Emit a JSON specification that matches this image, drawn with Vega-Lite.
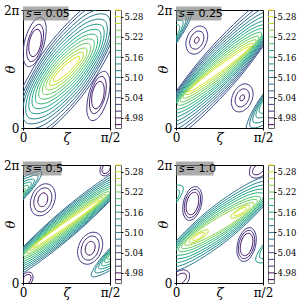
{
  "$schema": "https://vega.github.io/schema/vega-lite/v6.json",
  "padding": {"left": 2, "top": 3, "right": 0, "bottom": 0},
  "config": {
    "font": "DejaVu Serif",
    "view": {"stroke": "black", "strokeWidth": 1},
    "axis": {"grid": false, "domain": false, "tickColor": "black", "labelColor": "black", "labelFont": "DejaVu Serif", "titleFont": "DejaVu Serif", "tickSize": 2, "labelFontSize": 12, "titleFontSize": 13, "titleFontWeight": "normal", "titleColor": "black"}
  },
  "datasets": {
    "c1": [
      {"c":"k0","o":0,"z":58.6,"t":217,"l":5.28},{"c":"k0","o":1,"z":53.1,"t":213,"l":5.28},{"c":"k0","o":2,"z":42.9,"t":190,"l":5.28},{"c":"k0","o":3,"z":33.9,"t":161,"l":5.28},{"c":"k0","o":4,"z":31.4,"t":143,"l":5.28},{"c":"k0","o":5,"z":36.9,"t":147,"l":5.28},{"c":"k0","o":6,"z":47.1,"t":170,"l":5.28},{"c":"k0","o":7,"z":56.1,"t":199,"l":5.28},
      {"c":"k1","o":0,"z":62.3,"t":229,"l":5.26},{"c":"k1","o":1,"z":54.9,"t":226,"l":5.26},{"c":"k1","o":2,"z":41.6,"t":196,"l":5.26},{"c":"k1","o":3,"z":30.3,"t":157,"l":5.26},{"c":"k1","o":4,"z":27.7,"t":131,"l":5.26},{"c":"k1","o":5,"z":35.1,"t":135,"l":5.26},{"c":"k1","o":6,"z":48.4,"t":164,"l":5.26},{"c":"k1","o":7,"z":59.7,"t":204,"l":5.26},
      {"c":"k2","o":0,"z":66.0,"t":241,"l":5.24},{"c":"k2","o":1,"z":56.5,"t":238,"l":5.24},{"c":"k2","o":2,"z":40.3,"t":201,"l":5.24},{"c":"k2","o":3,"z":26.8,"t":152,"l":5.24},{"c":"k2","o":4,"z":24.0,"t":119,"l":5.24},{"c":"k2","o":5,"z":33.5,"t":122,"l":5.24},{"c":"k2","o":6,"z":49.7,"t":159,"l":5.24},{"c":"k2","o":7,"z":63.2,"t":208,"l":5.24},
      {"c":"k3","o":0,"z":69.5,"t":254,"l":5.22},{"c":"k3","o":1,"z":58.0,"t":251,"l":5.22},{"c":"k3","o":2,"z":38.9,"t":206,"l":5.22},{"c":"k3","o":3,"z":23.4,"t":146,"l":5.22},{"c":"k3","o":4,"z":20.5,"t":106,"l":5.22},{"c":"k3","o":5,"z":32.0,"t":109,"l":5.22},{"c":"k3","o":6,"z":51.1,"t":154,"l":5.22},{"c":"k3","o":7,"z":66.7,"t":214,"l":5.22},
      {"c":"k4","o":0,"z":72.9,"t":267,"l":5.20},{"c":"k4","o":1,"z":59.4,"t":264,"l":5.20},{"c":"k4","o":2,"z":37.5,"t":211,"l":5.20},{"c":"k4","o":3,"z":19.9,"t":140,"l":5.20},{"c":"k4","o":4,"z":17.1,"t":93,"l":5.20},{"c":"k4","o":5,"z":30.6,"t":96,"l":5.20},{"c":"k4","o":6,"z":52.5,"t":149,"l":5.20},{"c":"k4","o":7,"z":70.1,"t":220,"l":5.20},
      {"c":"k5","o":0,"z":76.2,"t":281,"l":5.18},{"c":"k5","o":1,"z":60.7,"t":277,"l":5.18},{"c":"k5","o":2,"z":36.0,"t":216,"l":5.18},{"c":"k5","o":3,"z":16.6,"t":134,"l":5.18},{"c":"k5","o":4,"z":13.8,"t":79,"l":5.18},{"c":"k5","o":5,"z":29.3,"t":83,"l":5.18},{"c":"k5","o":6,"z":54.0,"t":144,"l":5.18},{"c":"k5","o":7,"z":73.5,"t":226,"l":5.18},
      {"c":"k6","o":0,"z":79.4,"t":295,"l":5.16},{"c":"k6","o":1,"z":61.8,"t":290,"l":5.16},{"c":"k6","o":2,"z":34.4,"t":221,"l":5.16},{"c":"k6","o":3,"z":13.2,"t":127,"l":5.16},{"c":"k6","o":4,"z":10.6,"t":65,"l":5.16},{"c":"k6","o":5,"z":28.2,"t":70,"l":5.16},{"c":"k6","o":6,"z":55.6,"t":139,"l":5.16},{"c":"k6","o":7,"z":76.8,"t":233,"l":5.16},
      {"c":"k7","o":0,"z":82.4,"t":310,"l":5.14},{"c":"k7","o":1,"z":62.8,"t":304,"l":5.14},{"c":"k7","o":2,"z":32.8,"t":225,"l":5.14},{"c":"k7","o":3,"z":10.0,"t":120,"l":5.14},{"c":"k7","o":4,"z":7.6,"t":50,"l":5.14},{"c":"k7","o":5,"z":27.2,"t":56,"l":5.14},{"c":"k7","o":6,"z":57.2,"t":135,"l":5.14},{"c":"k7","o":7,"z":80.0,"t":240,"l":5.14},
      {"c":"k8","o":0,"z":85.3,"t":325,"l":5.12},{"c":"k8","o":1,"z":63.7,"t":318,"l":5.12},{"c":"k8","o":2,"z":31.2,"t":230,"l":5.12},{"c":"k8","o":3,"z":6.8,"t":113,"l":5.12},{"c":"k8","o":4,"z":4.7,"t":35,"l":5.12},{"c":"k8","o":5,"z":26.3,"t":42,"l":5.12},{"c":"k8","o":6,"z":58.8,"t":130,"l":5.12},{"c":"k8","o":7,"z":83.2,"t":248,"l":5.12},
      {"c":"k9","o":0,"z":88.1,"t":341,"l":5.10},{"c":"k9","o":1,"z":64.5,"t":332,"l":5.10},{"c":"k9","o":2,"z":29.5,"t":234,"l":5.10},{"c":"k9","o":3,"z":3.6,"t":105,"l":5.10},{"c":"k9","o":4,"z":1.9,"t":20,"l":5.10},{"c":"k9","o":5,"z":25.5,"t":29,"l":5.10},{"c":"k9","o":6,"z":60.5,"t":126,"l":5.10},{"c":"k9","o":7,"z":86.4,"t":256,"l":5.10},
      {"c":"k10","o":0,"z":90.7,"t":356,"l":5.08},{"c":"k10","o":1,"z":65.2,"t":346,"l":5.08},{"c":"k10","o":2,"z":27.8,"t":238,"l":5.08},{"c":"k10","o":3,"z":0.6,"t":96,"l":5.08},{"c":"k10","o":4,"z":-0.7,"t":4,"l":5.08},{"c":"k10","o":5,"z":24.8,"t":15,"l":5.08},{"c":"k10","o":6,"z":62.2,"t":122,"l":5.08},{"c":"k10","o":7,"z":89.5,"t":264,"l":5.08},
      {"c":"k11","o":0,"z":93.8,"t":375,"l":5.06},{"c":"k11","o":1,"z":66.1,"t":362,"l":5.06},{"c":"k11","o":2,"z":26.1,"t":241,"l":5.06},{"c":"k11","o":3,"z":-2.9,"t":85,"l":5.06},{"c":"k11","o":4,"z":-3.8,"t":-15,"l":5.06},{"c":"k11","o":5,"z":23.9,"t":-2,"l":5.06},{"c":"k11","o":6,"z":64.0,"t":119,"l":5.06},{"c":"k11","o":7,"z":92.9,"t":275,"l":5.06},
      {"c":"k12","o":0,"z":98.5,"t":394,"l":5.04},{"c":"k12","o":1,"z":68.4,"t":378,"l":5.04},{"c":"k12","o":2,"z":24.6,"t":246,"l":5.04},{"c":"k12","o":3,"z":-7.3,"t":76,"l":5.04},{"c":"k12","o":4,"z":-8.5,"t":-34,"l":5.04},{"c":"k12","o":5,"z":21.6,"t":-18,"l":5.04},{"c":"k12","o":6,"z":65.4,"t":114,"l":5.04},{"c":"k12","o":7,"z":97.3,"t":285,"l":5.04},
      {"c":"m13a","o":0,"z":19.5,"t":337,"l":5.02},{"c":"m13a","o":1,"z":10.7,"t":324,"l":5.02},{"c":"m13a","o":2,"z":2.6,"t":275,"l":5.02},{"c":"m13a","o":3,"z":0.0,"t":219,"l":5.02},{"c":"m13a","o":4,"z":4.5,"t":188,"l":5.02},{"c":"m13a","o":5,"z":13.3,"t":201,"l":5.02},{"c":"m13a","o":6,"z":21.4,"t":250,"l":5.02},{"c":"m13a","o":7,"z":24.0,"t":307,"l":5.02},
      {"c":"m13b","o":0,"z":70.5,"t":23,"l":5.02},{"c":"m13b","o":1,"z":79.3,"t":36,"l":5.02},{"c":"m13b","o":2,"z":87.4,"t":85,"l":5.02},{"c":"m13b","o":3,"z":90.0,"t":141,"l":5.02},{"c":"m13b","o":4,"z":85.5,"t":172,"l":5.02},{"c":"m13b","o":5,"z":76.7,"t":159,"l":5.02},{"c":"m13b","o":6,"z":68.6,"t":110,"l":5.02},{"c":"m13b","o":7,"z":66.0,"t":53,"l":5.02},
      {"c":"m14a","o":0,"z":17.6,"t":316,"l":5.00},{"c":"m14a","o":1,"z":11.1,"t":305,"l":5.00},{"c":"m14a","o":2,"z":5.4,"t":268,"l":5.00},{"c":"m14a","o":3,"z":3.9,"t":225,"l":5.00},{"c":"m14a","o":4,"z":7.4,"t":203,"l":5.00},{"c":"m14a","o":5,"z":13.9,"t":213,"l":5.00},{"c":"m14a","o":6,"z":19.6,"t":251,"l":5.00},{"c":"m14a","o":7,"z":21.2,"t":293,"l":5.00},
      {"c":"m14b","o":0,"z":72.4,"t":44,"l":5.00},{"c":"m14b","o":1,"z":78.9,"t":55,"l":5.00},{"c":"m14b","o":2,"z":84.6,"t":92,"l":5.00},{"c":"m14b","o":3,"z":86.1,"t":135,"l":5.00},{"c":"m14b","o":4,"z":82.6,"t":157,"l":5.00},{"c":"m14b","o":5,"z":76.1,"t":147,"l":5.00},{"c":"m14b","o":6,"z":70.4,"t":109,"l":5.00},{"c":"m14b","o":7,"z":68.8,"t":67,"l":5.00},
      {"c":"m15a","o":0,"z":15.6,"t":301,"l":4.98},{"c":"m15a","o":1,"z":10.6,"t":293,"l":4.98},{"c":"m15a","o":2,"z":6.7,"t":265,"l":4.98},{"c":"m15a","o":3,"z":6.2,"t":234,"l":4.98},{"c":"m15a","o":4,"z":9.4,"t":218,"l":4.98},{"c":"m15a","o":5,"z":14.4,"t":226,"l":4.98},{"c":"m15a","o":6,"z":18.3,"t":254,"l":4.98},{"c":"m15a","o":7,"z":18.8,"t":285,"l":4.98},
      {"c":"m15b","o":0,"z":74.4,"t":59,"l":4.98},{"c":"m15b","o":1,"z":79.4,"t":67,"l":4.98},{"c":"m15b","o":2,"z":83.3,"t":95,"l":4.98},{"c":"m15b","o":3,"z":83.8,"t":126,"l":4.98},{"c":"m15b","o":4,"z":80.6,"t":142,"l":4.98},{"c":"m15b","o":5,"z":75.6,"t":134,"l":4.98},{"c":"m15b","o":6,"z":71.7,"t":106,"l":4.98},{"c":"m15b","o":7,"z":71.2,"t":75,"l":4.98}
    ],
    "c2": [
      {"c":"k0","o":0,"z":76.7,"t":249,"l":5.28},{"c":"k0","o":1,"z":66.5,"t":234,"l":5.28},{"c":"k0","o":2,"z":43.7,"t":188,"l":5.28},{"c":"k0","o":3,"z":21.7,"t":137,"l":5.28},{"c":"k0","o":4,"z":13.3,"t":111,"l":5.28},{"c":"k0","o":5,"z":23.5,"t":126,"l":5.28},{"c":"k0","o":6,"z":46.3,"t":172,"l":5.28},{"c":"k0","o":7,"z":68.3,"t":223,"l":5.28},
      {"c":"k1","o":0,"z":79.8,"t":258,"l":5.26},{"c":"k1","o":1,"z":68.1,"t":244,"l":5.26},{"c":"k1","o":2,"z":42.9,"t":192,"l":5.26},{"c":"k1","o":3,"z":19.0,"t":133,"l":5.26},{"c":"k1","o":4,"z":10.2,"t":102,"l":5.26},{"c":"k1","o":5,"z":21.9,"t":116,"l":5.26},{"c":"k1","o":6,"z":47.1,"t":168,"l":5.26},{"c":"k1","o":7,"z":71.1,"t":227,"l":5.26},
      {"c":"k2","o":0,"z":82.8,"t":268,"l":5.24},{"c":"k2","o":1,"z":69.7,"t":254,"l":5.24},{"c":"k2","o":2,"z":42.1,"t":196,"l":5.24},{"c":"k2","o":3,"z":16.3,"t":129,"l":5.24},{"c":"k2","o":4,"z":7.2,"t":92,"l":5.24},{"c":"k2","o":5,"z":20.4,"t":106,"l":5.24},{"c":"k2","o":6,"z":47.9,"t":164,"l":5.24},{"c":"k2","o":7,"z":73.7,"t":231,"l":5.24},
      {"c":"k3","o":0,"z":85.6,"t":279,"l":5.22},{"c":"k3","o":1,"z":71.1,"t":264,"l":5.22},{"c":"k3","o":2,"z":41.3,"t":200,"l":5.22},{"c":"k3","o":3,"z":13.6,"t":124,"l":5.22},{"c":"k3","o":4,"z":4.4,"t":81,"l":5.22},{"c":"k3","o":5,"z":18.9,"t":96,"l":5.22},{"c":"k3","o":6,"z":48.8,"t":160,"l":5.22},{"c":"k3","o":7,"z":76.4,"t":236,"l":5.22},
      {"c":"k4","o":0,"z":88.4,"t":290,"l":5.20},{"c":"k4","o":1,"z":72.4,"t":274,"l":5.20},{"c":"k4","o":2,"z":40.4,"t":204,"l":5.20},{"c":"k4","o":3,"z":11.0,"t":119,"l":5.20},{"c":"k4","o":4,"z":1.6,"t":71,"l":5.20},{"c":"k4","o":5,"z":17.6,"t":86,"l":5.20},{"c":"k4","o":6,"z":49.7,"t":156,"l":5.20},{"c":"k4","o":7,"z":79.0,"t":241,"l":5.20},
      {"c":"k5","o":0,"z":91.1,"t":301,"l":5.18},{"c":"k5","o":1,"z":73.7,"t":285,"l":5.18},{"c":"k5","o":2,"z":39.4,"t":208,"l":5.18},{"c":"k5","o":3,"z":8.5,"t":114,"l":5.18},{"c":"k5","o":4,"z":-1.1,"t":59,"l":5.18},{"c":"k5","o":5,"z":16.4,"t":75,"l":5.18},{"c":"k5","o":6,"z":50.6,"t":152,"l":5.18},{"c":"k5","o":7,"z":81.6,"t":246,"l":5.18},
      {"c":"k6","o":0,"z":93.7,"t":312,"l":5.16},{"c":"k6","o":1,"z":74.8,"t":296,"l":5.16},{"c":"k6","o":2,"z":38.4,"t":211,"l":5.16},{"c":"k6","o":3,"z":5.9,"t":109,"l":5.16},{"c":"k6","o":4,"z":-3.7,"t":48,"l":5.16},{"c":"k6","o":5,"z":15.2,"t":64,"l":5.16},{"c":"k6","o":6,"z":51.6,"t":149,"l":5.16},{"c":"k6","o":7,"z":84.1,"t":251,"l":5.16},
      {"c":"k6L","o":0,"z":3.7,"t":312,"l":5.16},{"c":"k6L","o":1,"z":-15.2,"t":296,"l":5.16},{"c":"k6L","o":2,"z":-51.6,"t":211,"l":5.16},{"c":"k6L","o":3,"z":-84.1,"t":109,"l":5.16},{"c":"k6L","o":4,"z":-93.7,"t":48,"l":5.16},{"c":"k6L","o":5,"z":-74.8,"t":64,"l":5.16},{"c":"k6L","o":6,"z":-38.4,"t":149,"l":5.16},{"c":"k6L","o":7,"z":-5.9,"t":251,"l":5.16},
      {"c":"k6R","o":0,"z":183.7,"t":312,"l":5.16},{"c":"k6R","o":1,"z":164.8,"t":296,"l":5.16},{"c":"k6R","o":2,"z":128.4,"t":211,"l":5.16},{"c":"k6R","o":3,"z":95.9,"t":109,"l":5.16},{"c":"k6R","o":4,"z":86.3,"t":48,"l":5.16},{"c":"k6R","o":5,"z":105.2,"t":64,"l":5.16},{"c":"k6R","o":6,"z":141.6,"t":149,"l":5.16},{"c":"k6R","o":7,"z":174.1,"t":251,"l":5.16},
      {"c":"k7","o":0,"z":97.0,"t":326,"l":5.14},{"c":"k7","o":1,"z":76.4,"t":308,"l":5.14},{"c":"k7","o":2,"z":37.4,"t":215,"l":5.14},{"c":"k7","o":3,"z":2.9,"t":101,"l":5.14},{"c":"k7","o":4,"z":-7.0,"t":34,"l":5.14},{"c":"k7","o":5,"z":13.6,"t":52,"l":5.14},{"c":"k7","o":6,"z":52.6,"t":145,"l":5.14},{"c":"k7","o":7,"z":87.1,"t":259,"l":5.14},
      {"c":"k7L","o":0,"z":7.0,"t":326,"l":5.14},{"c":"k7L","o":1,"z":-13.6,"t":308,"l":5.14},{"c":"k7L","o":2,"z":-52.6,"t":215,"l":5.14},{"c":"k7L","o":3,"z":-87.1,"t":101,"l":5.14},{"c":"k7L","o":4,"z":-97.0,"t":34,"l":5.14},{"c":"k7L","o":5,"z":-76.4,"t":52,"l":5.14},{"c":"k7L","o":6,"z":-37.4,"t":145,"l":5.14},{"c":"k7L","o":7,"z":-2.9,"t":259,"l":5.14},
      {"c":"k7R","o":0,"z":187.0,"t":326,"l":5.14},{"c":"k7R","o":1,"z":166.4,"t":308,"l":5.14},{"c":"k7R","o":2,"z":127.4,"t":215,"l":5.14},{"c":"k7R","o":3,"z":92.9,"t":101,"l":5.14},{"c":"k7R","o":4,"z":83.0,"t":34,"l":5.14},{"c":"k7R","o":5,"z":103.6,"t":52,"l":5.14},{"c":"k7R","o":6,"z":142.6,"t":145,"l":5.14},{"c":"k7R","o":7,"z":177.1,"t":259,"l":5.14},
      {"c":"k8","o":0,"z":100.2,"t":341,"l":5.12},{"c":"k8","o":1,"z":77.9,"t":321,"l":5.12},{"c":"k8","o":2,"z":36.4,"t":218,"l":5.12},{"c":"k8","o":3,"z":-0.1,"t":93,"l":5.12},{"c":"k8","o":4,"z":-10.2,"t":19,"l":5.12},{"c":"k8","o":5,"z":12.1,"t":39,"l":5.12},{"c":"k8","o":6,"z":53.6,"t":142,"l":5.12},{"c":"k8","o":7,"z":90.1,"t":267,"l":5.12},
      {"c":"k8L","o":0,"z":10.2,"t":341,"l":5.12},{"c":"k8L","o":1,"z":-12.1,"t":321,"l":5.12},{"c":"k8L","o":2,"z":-53.6,"t":218,"l":5.12},{"c":"k8L","o":3,"z":-90.1,"t":93,"l":5.12},{"c":"k8L","o":4,"z":-100.2,"t":19,"l":5.12},{"c":"k8L","o":5,"z":-77.9,"t":39,"l":5.12},{"c":"k8L","o":6,"z":-36.4,"t":142,"l":5.12},{"c":"k8L","o":7,"z":0.1,"t":267,"l":5.12},
      {"c":"k8R","o":0,"z":190.2,"t":341,"l":5.12},{"c":"k8R","o":1,"z":167.9,"t":321,"l":5.12},{"c":"k8R","o":2,"z":126.4,"t":218,"l":5.12},{"c":"k8R","o":3,"z":89.9,"t":93,"l":5.12},{"c":"k8R","o":4,"z":79.8,"t":19,"l":5.12},{"c":"k8R","o":5,"z":102.1,"t":39,"l":5.12},{"c":"k8R","o":6,"z":143.6,"t":142,"l":5.12},{"c":"k8R","o":7,"z":180.1,"t":267,"l":5.12},
      {"c":"k9","o":0,"z":103.2,"t":356,"l":5.10},{"c":"k9","o":1,"z":79.3,"t":334,"l":5.10},{"c":"k9","o":2,"z":35.3,"t":222,"l":5.10},{"c":"k9","o":3,"z":-3.0,"t":85,"l":5.10},{"c":"k9","o":4,"z":-13.2,"t":4,"l":5.10},{"c":"k9","o":5,"z":10.7,"t":26,"l":5.10},{"c":"k9","o":6,"z":54.7,"t":138,"l":5.10},{"c":"k9","o":7,"z":93.0,"t":275,"l":5.10},
      {"c":"k9L","o":0,"z":13.2,"t":356,"l":5.10},{"c":"k9L","o":1,"z":-10.7,"t":334,"l":5.10},{"c":"k9L","o":2,"z":-54.7,"t":222,"l":5.10},{"c":"k9L","o":3,"z":-93.0,"t":85,"l":5.10},{"c":"k9L","o":4,"z":-103.2,"t":4,"l":5.10},{"c":"k9L","o":5,"z":-79.3,"t":26,"l":5.10},{"c":"k9L","o":6,"z":-35.3,"t":138,"l":5.10},{"c":"k9L","o":7,"z":3.0,"t":275,"l":5.10},
      {"c":"k9R","o":0,"z":193.2,"t":356,"l":5.10},{"c":"k9R","o":1,"z":169.3,"t":334,"l":5.10},{"c":"k9R","o":2,"z":125.3,"t":222,"l":5.10},{"c":"k9R","o":3,"z":87.0,"t":85,"l":5.10},{"c":"k9R","o":4,"z":76.8,"t":4,"l":5.10},{"c":"k9R","o":5,"z":100.7,"t":26,"l":5.10},{"c":"k9R","o":6,"z":144.7,"t":138,"l":5.10},{"c":"k9R","o":7,"z":183.0,"t":275,"l":5.10},
      {"c":"k10","o":0,"z":106.9,"t":374,"l":5.08},{"c":"k10","o":1,"z":81.1,"t":349,"l":5.08},{"c":"k10","o":2,"z":34.2,"t":225,"l":5.08},{"c":"k10","o":3,"z":-6.4,"t":75,"l":5.08},{"c":"k10","o":4,"z":-16.9,"t":-14,"l":5.08},{"c":"k10","o":5,"z":8.9,"t":11,"l":5.08},{"c":"k10","o":6,"z":55.8,"t":135,"l":5.08},{"c":"k10","o":7,"z":96.4,"t":285,"l":5.08},
      {"c":"k10L","o":0,"z":16.9,"t":374,"l":5.08},{"c":"k10L","o":1,"z":-8.9,"t":349,"l":5.08},{"c":"k10L","o":2,"z":-55.8,"t":225,"l":5.08},{"c":"k10L","o":3,"z":-96.4,"t":75,"l":5.08},{"c":"k10L","o":4,"z":-106.9,"t":-14,"l":5.08},{"c":"k10L","o":5,"z":-81.1,"t":11,"l":5.08},{"c":"k10L","o":6,"z":-34.2,"t":135,"l":5.08},{"c":"k10L","o":7,"z":6.4,"t":285,"l":5.08},
      {"c":"k10R","o":0,"z":196.9,"t":374,"l":5.08},{"c":"k10R","o":1,"z":171.1,"t":349,"l":5.08},{"c":"k10R","o":2,"z":124.2,"t":225,"l":5.08},{"c":"k10R","o":3,"z":83.6,"t":75,"l":5.08},{"c":"k10R","o":4,"z":73.1,"t":-14,"l":5.08},{"c":"k10R","o":5,"z":98.9,"t":11,"l":5.08},{"c":"k10R","o":6,"z":144.8,"t":135,"l":5.08},{"c":"k10R","o":7,"z":186.4,"t":285,"l":5.08},
      {"c":"k11","o":0,"z":110.4,"t":392,"l":5.06},{"c":"k11","o":1,"z":82.8,"t":364,"l":5.06},{"c":"k11","o":2,"z":33.0,"t":228,"l":5.06},{"c":"k11","o":3,"z":-9.7,"t":64,"l":5.06},{"c":"k11","o":4,"z":-20.4,"t":-32,"l":5.06},{"c":"k11","o":5,"z":7.3,"t":-4,"l":5.06},{"c":"k11","o":6,"z":57.0,"t":132,"l":5.06},{"c":"k11","o":7,"z":99.7,"t":296,"l":5.06},
      {"c":"k12","o":0,"z":114.5,"t":413,"l":5.04},{"c":"k12","o":1,"z":84.8,"t":381,"l":5.04},{"c":"k12","o":2,"z":31.8,"t":231,"l":5.04},{"c":"k12","o":3,"z":-13.4,"t":51,"l":5.04},{"c":"k12","o":4,"z":-24.5,"t":-53,"l":5.04},{"c":"k12","o":5,"z":5.2,"t":-21,"l":5.04},{"c":"k12","o":6,"z":58.2,"t":129,"l":5.04},{"c":"k12","o":7,"z":103.4,"t":309,"l":5.04},
      {"c":"m13a","o":0,"z":30.0,"t":305,"l":5.02},{"c":"m13a","o":1,"z":22.2,"t":310,"l":5.02},{"c":"m13a","o":2,"z":14.0,"t":291,"l":5.02},{"c":"m13a","o":3,"z":10.2,"t":259,"l":5.02},{"c":"m13a","o":4,"z":13.0,"t":232,"l":5.02},{"c":"m13a","o":5,"z":20.8,"t":226,"l":5.02},{"c":"m13a","o":6,"z":29.0,"t":246,"l":5.02},{"c":"m13a","o":7,"z":32.8,"t":278,"l":5.02},
      {"c":"m13b","o":0,"z":60.0,"t":55,"l":5.02},{"c":"m13b","o":1,"z":67.8,"t":50,"l":5.02},{"c":"m13b","o":2,"z":76.0,"t":69,"l":5.02},{"c":"m13b","o":3,"z":79.8,"t":101,"l":5.02},{"c":"m13b","o":4,"z":77.0,"t":128,"l":5.02},{"c":"m13b","o":5,"z":69.2,"t":134,"l":5.02},{"c":"m13b","o":6,"z":61.0,"t":114,"l":5.02},{"c":"m13b","o":7,"z":57.2,"t":82,"l":5.02},
      {"c":"m14a","o":0,"z":27.0,"t":292,"l":5.00},{"c":"m14a","o":1,"z":22.0,"t":295,"l":5.00},{"c":"m14a","o":2,"z":16.6,"t":283,"l":5.00},{"c":"m14a","o":3,"z":14.1,"t":262,"l":5.00},{"c":"m14a","o":4,"z":16.0,"t":245,"l":5.00},{"c":"m14a","o":5,"z":21.1,"t":241,"l":5.00},{"c":"m14a","o":6,"z":26.4,"t":253,"l":5.00},{"c":"m14a","o":7,"z":28.9,"t":275,"l":5.00},
      {"c":"m14b","o":0,"z":63.0,"t":68,"l":5.00},{"c":"m14b","o":1,"z":68.0,"t":65,"l":5.00},{"c":"m14b","o":2,"z":73.4,"t":77,"l":5.00},{"c":"m14b","o":3,"z":75.9,"t":98,"l":5.00},{"c":"m14b","o":4,"z":74.0,"t":115,"l":5.00},{"c":"m14b","o":5,"z":68.9,"t":119,"l":5.00},{"c":"m14b","o":6,"z":63.6,"t":107,"l":5.00},{"c":"m14b","o":7,"z":61.1,"t":85,"l":5.00},
      {"c":"m15a","o":0,"z":23.4,"t":276,"l":4.98},{"c":"m15a","o":1,"z":21.7,"t":277,"l":4.98},{"c":"m15a","o":2,"z":19.9,"t":273,"l":4.98},{"c":"m15a","o":3,"z":19.1,"t":266,"l":4.98},{"c":"m15a","o":4,"z":19.6,"t":260,"l":4.98},{"c":"m15a","o":5,"z":21.3,"t":259,"l":4.98},{"c":"m15a","o":6,"z":23.1,"t":263,"l":4.98},{"c":"m15a","o":7,"z":24.0,"t":270,"l":4.98},
      {"c":"m15b","o":0,"z":66.6,"t":84,"l":4.98},{"c":"m15b","o":1,"z":68.3,"t":83,"l":4.98},{"c":"m15b","o":2,"z":70.1,"t":87,"l":4.98},{"c":"m15b","o":3,"z":70.9,"t":94,"l":4.98},{"c":"m15b","o":4,"z":70.4,"t":100,"l":4.98},{"c":"m15b","o":5,"z":68.7,"t":101,"l":4.98},{"c":"m15b","o":6,"z":66.9,"t":97,"l":4.98},{"c":"m15b","o":7,"z":66.0,"t":90,"l":4.98}
    ],
    "c3": [
      {"c":"k0","o":0,"z":79.6,"t":252,"l":5.28},{"c":"k0","o":1,"z":68.8,"t":235,"l":5.28},{"c":"k0","o":2,"z":44.0,"t":186,"l":5.28},{"c":"k0","o":3,"z":19.8,"t":134,"l":5.28},{"c":"k0","o":4,"z":10.4,"t":108,"l":5.28},{"c":"k0","o":5,"z":21.2,"t":125,"l":5.28},{"c":"k0","o":6,"z":46.0,"t":174,"l":5.28},{"c":"k0","o":7,"z":70.2,"t":227,"l":5.28},
      {"c":"k1","o":0,"z":82.9,"t":261,"l":5.26},{"c":"k1","o":1,"z":70.7,"t":244,"l":5.26},{"c":"k1","o":2,"z":43.5,"t":189,"l":5.26},{"c":"k1","o":3,"z":17.1,"t":130,"l":5.26},{"c":"k1","o":4,"z":7.1,"t":100,"l":5.26},{"c":"k1","o":5,"z":19.3,"t":117,"l":5.26},{"c":"k1","o":6,"z":46.5,"t":171,"l":5.26},{"c":"k1","o":7,"z":72.9,"t":230,"l":5.26},
      {"c":"k2","o":0,"z":86.1,"t":269,"l":5.24},{"c":"k2","o":1,"z":72.6,"t":252,"l":5.24},{"c":"k2","o":2,"z":42.9,"t":192,"l":5.24},{"c":"k2","o":3,"z":14.5,"t":126,"l":5.24},{"c":"k2","o":4,"z":3.9,"t":91,"l":5.24},{"c":"k2","o":5,"z":17.4,"t":108,"l":5.24},{"c":"k2","o":6,"z":47.1,"t":168,"l":5.24},{"c":"k2","o":7,"z":75.5,"t":234,"l":5.24},
      {"c":"k3","o":0,"z":89.4,"t":278,"l":5.22},{"c":"k3","o":1,"z":74.5,"t":260,"l":5.22},{"c":"k3","o":2,"z":42.4,"t":195,"l":5.22},{"c":"k3","o":3,"z":11.8,"t":122,"l":5.22},{"c":"k3","o":4,"z":0.6,"t":82,"l":5.22},{"c":"k3","o":5,"z":15.5,"t":100,"l":5.22},{"c":"k3","o":6,"z":47.6,"t":165,"l":5.22},{"c":"k3","o":7,"z":78.2,"t":238,"l":5.22},
      {"c":"k4","o":0,"z":92.5,"t":287,"l":5.20},{"c":"k4","o":1,"z":76.3,"t":269,"l":5.20},{"c":"k4","o":2,"z":41.8,"t":198,"l":5.20},{"c":"k4","o":3,"z":9.2,"t":117,"l":5.20},{"c":"k4","o":4,"z":-2.5,"t":73,"l":5.20},{"c":"k4","o":5,"z":13.7,"t":92,"l":5.20},{"c":"k4","o":6,"z":48.2,"t":162,"l":5.20},{"c":"k4","o":7,"z":80.8,"t":243,"l":5.20},
      {"c":"k4L","o":0,"z":2.5,"t":287,"l":5.20},{"c":"k4L","o":1,"z":-13.7,"t":269,"l":5.20},{"c":"k4L","o":2,"z":-48.2,"t":198,"l":5.20},{"c":"k4L","o":3,"z":-80.8,"t":117,"l":5.20},{"c":"k4L","o":4,"z":-92.5,"t":73,"l":5.20},{"c":"k4L","o":5,"z":-76.3,"t":92,"l":5.20},{"c":"k4L","o":6,"z":-41.8,"t":162,"l":5.20},{"c":"k4L","o":7,"z":-9.2,"t":243,"l":5.20},
      {"c":"k4R","o":0,"z":182.5,"t":287,"l":5.20},{"c":"k4R","o":1,"z":166.3,"t":269,"l":5.20},{"c":"k4R","o":2,"z":131.8,"t":198,"l":5.20},{"c":"k4R","o":3,"z":99.2,"t":117,"l":5.20},{"c":"k4R","o":4,"z":87.5,"t":73,"l":5.20},{"c":"k4R","o":5,"z":103.7,"t":92,"l":5.20},{"c":"k4R","o":6,"z":138.2,"t":162,"l":5.20},{"c":"k4R","o":7,"z":170.8,"t":243,"l":5.20},
      {"c":"k5","o":0,"z":95.6,"t":296,"l":5.18},{"c":"k5","o":1,"z":78.1,"t":277,"l":5.18},{"c":"k5","o":2,"z":41.2,"t":201,"l":5.18},{"c":"k5","o":3,"z":6.6,"t":113,"l":5.18},{"c":"k5","o":4,"z":-5.6,"t":64,"l":5.18},{"c":"k5","o":5,"z":11.9,"t":83,"l":5.18},{"c":"k5","o":6,"z":48.8,"t":159,"l":5.18},{"c":"k5","o":7,"z":83.4,"t":247,"l":5.18},
      {"c":"k5L","o":0,"z":5.6,"t":296,"l":5.18},{"c":"k5L","o":1,"z":-11.9,"t":277,"l":5.18},{"c":"k5L","o":2,"z":-48.8,"t":201,"l":5.18},{"c":"k5L","o":3,"z":-83.4,"t":113,"l":5.18},{"c":"k5L","o":4,"z":-95.6,"t":64,"l":5.18},{"c":"k5L","o":5,"z":-78.1,"t":83,"l":5.18},{"c":"k5L","o":6,"z":-41.2,"t":159,"l":5.18},{"c":"k5L","o":7,"z":-6.6,"t":247,"l":5.18},
      {"c":"k5R","o":0,"z":185.6,"t":296,"l":5.18},{"c":"k5R","o":1,"z":168.1,"t":277,"l":5.18},{"c":"k5R","o":2,"z":131.2,"t":201,"l":5.18},{"c":"k5R","o":3,"z":96.6,"t":113,"l":5.18},{"c":"k5R","o":4,"z":84.4,"t":64,"l":5.18},{"c":"k5R","o":5,"z":101.9,"t":83,"l":5.18},{"c":"k5R","o":6,"z":138.8,"t":159,"l":5.18},{"c":"k5R","o":7,"z":173.4,"t":247,"l":5.18},
      {"c":"k6","o":0,"z":98.7,"t":306,"l":5.16},{"c":"k6","o":1,"z":79.9,"t":286,"l":5.16},{"c":"k6","o":2,"z":40.6,"t":204,"l":5.16},{"c":"k6","o":3,"z":4.0,"t":108,"l":5.16},{"c":"k6","o":4,"z":-8.7,"t":54,"l":5.16},{"c":"k6","o":5,"z":10.1,"t":74,"l":5.16},{"c":"k6","o":6,"z":49.4,"t":156,"l":5.16},{"c":"k6","o":7,"z":86.1,"t":252,"l":5.16},
      {"c":"k6L","o":0,"z":8.7,"t":306,"l":5.16},{"c":"k6L","o":1,"z":-10.1,"t":286,"l":5.16},{"c":"k6L","o":2,"z":-49.4,"t":204,"l":5.16},{"c":"k6L","o":3,"z":-86.0,"t":108,"l":5.16},{"c":"k6L","o":4,"z":-98.7,"t":54,"l":5.16},{"c":"k6L","o":5,"z":-79.9,"t":74,"l":5.16},{"c":"k6L","o":6,"z":-40.6,"t":156,"l":5.16},{"c":"k6L","o":7,"z":-3.9,"t":252,"l":5.16},
      {"c":"k6R","o":0,"z":188.7,"t":306,"l":5.16},{"c":"k6R","o":1,"z":169.9,"t":286,"l":5.16},{"c":"k6R","o":2,"z":130.6,"t":204,"l":5.16},{"c":"k6R","o":3,"z":94.0,"t":108,"l":5.16},{"c":"k6R","o":4,"z":81.3,"t":54,"l":5.16},{"c":"k6R","o":5,"z":100.1,"t":74,"l":5.16},{"c":"k6R","o":6,"z":139.4,"t":156,"l":5.16},{"c":"k6R","o":7,"z":176.1,"t":252,"l":5.16},
      {"c":"k7","o":0,"z":101.7,"t":315,"l":5.14},{"c":"k7","o":1,"z":81.6,"t":295,"l":5.14},{"c":"k7","o":2,"z":40.0,"t":207,"l":5.14},{"c":"k7","o":3,"z":1.4,"t":104,"l":5.14},{"c":"k7","o":4,"z":-11.7,"t":45,"l":5.14},{"c":"k7","o":5,"z":8.4,"t":65,"l":5.14},{"c":"k7","o":6,"z":50.0,"t":153,"l":5.14},{"c":"k7","o":7,"z":88.6,"t":256,"l":5.14},
      {"c":"k7L","o":0,"z":11.7,"t":315,"l":5.14},{"c":"k7L","o":1,"z":-8.4,"t":295,"l":5.14},{"c":"k7L","o":2,"z":-50.0,"t":207,"l":5.14},{"c":"k7L","o":3,"z":-88.6,"t":104,"l":5.14},{"c":"k7L","o":4,"z":-101.7,"t":45,"l":5.14},{"c":"k7L","o":5,"z":-81.6,"t":65,"l":5.14},{"c":"k7L","o":6,"z":-40.0,"t":153,"l":5.14},{"c":"k7L","o":7,"z":-1.4,"t":256,"l":5.14},
      {"c":"k7R","o":0,"z":191.7,"t":315,"l":5.14},{"c":"k7R","o":1,"z":171.6,"t":295,"l":5.14},{"c":"k7R","o":2,"z":130.0,"t":207,"l":5.14},{"c":"k7R","o":3,"z":91.4,"t":104,"l":5.14},{"c":"k7R","o":4,"z":78.3,"t":45,"l":5.14},{"c":"k7R","o":5,"z":98.4,"t":65,"l":5.14},{"c":"k7R","o":6,"z":140.0,"t":153,"l":5.14},{"c":"k7R","o":7,"z":178.6,"t":256,"l":5.14},
      {"c":"k8","o":0,"z":105.5,"t":327,"l":5.12},{"c":"k8","o":1,"z":83.8,"t":305,"l":5.12},{"c":"k8","o":2,"z":39.4,"t":210,"l":5.12},{"c":"k8","o":3,"z":-1.7,"t":97,"l":5.12},{"c":"k8","o":4,"z":-15.5,"t":33,"l":5.12},{"c":"k8","o":5,"z":6.2,"t":55,"l":5.12},{"c":"k8","o":6,"z":50.6,"t":150,"l":5.12},{"c":"k8","o":7,"z":91.7,"t":263,"l":5.12},
      {"c":"k8L","o":0,"z":15.5,"t":327,"l":5.12},{"c":"k8L","o":1,"z":-6.2,"t":305,"l":5.12},{"c":"k8L","o":2,"z":-50.6,"t":210,"l":5.12},{"c":"k8L","o":3,"z":-91.7,"t":97,"l":5.12},{"c":"k8L","o":4,"z":-105.5,"t":33,"l":5.12},{"c":"k8L","o":5,"z":-83.8,"t":55,"l":5.12},{"c":"k8L","o":6,"z":-39.4,"t":150,"l":5.12},{"c":"k8L","o":7,"z":1.7,"t":263,"l":5.12},
      {"c":"k8R","o":0,"z":195.5,"t":327,"l":5.12},{"c":"k8R","o":1,"z":173.8,"t":305,"l":5.12},{"c":"k8R","o":2,"z":129.4,"t":210,"l":5.12},{"c":"k8R","o":3,"z":88.3,"t":97,"l":5.12},{"c":"k8R","o":4,"z":74.5,"t":33,"l":5.12},{"c":"k8R","o":5,"z":96.2,"t":55,"l":5.12},{"c":"k8R","o":6,"z":140.6,"t":150,"l":5.12},{"c":"k8R","o":7,"z":181.7,"t":263,"l":5.12},
      {"c":"k9","o":0,"z":109.3,"t":339,"l":5.10},{"c":"k9","o":1,"z":86.0,"t":315,"l":5.10},{"c":"k9","o":2,"z":38.8,"t":213,"l":5.10},{"c":"k9","o":3,"z":-4.8,"t":91,"l":5.10},{"c":"k9","o":4,"z":-19.3,"t":21,"l":5.10},{"c":"k9","o":5,"z":4.0,"t":45,"l":5.10},{"c":"k9","o":6,"z":51.2,"t":147,"l":5.10},{"c":"k9","o":7,"z":94.8,"t":269,"l":5.10},
      {"c":"k9L","o":0,"z":19.3,"t":339,"l":5.10},{"c":"k9L","o":1,"z":-4.0,"t":315,"l":5.10},{"c":"k9L","o":2,"z":-51.2,"t":213,"l":5.10},{"c":"k9L","o":3,"z":-94.8,"t":91,"l":5.10},{"c":"k9L","o":4,"z":-109.3,"t":21,"l":5.10},{"c":"k9L","o":5,"z":-86.0,"t":45,"l":5.10},{"c":"k9L","o":6,"z":-38.8,"t":147,"l":5.10},{"c":"k9L","o":7,"z":4.8,"t":269,"l":5.10},
      {"c":"k9R","o":0,"z":199.3,"t":339,"l":5.10},{"c":"k9R","o":1,"z":176.0,"t":315,"l":5.10},{"c":"k9R","o":2,"z":128.8,"t":213,"l":5.10},{"c":"k9R","o":3,"z":85.2,"t":91,"l":5.10},{"c":"k9R","o":4,"z":70.7,"t":21,"l":5.10},{"c":"k9R","o":5,"z":94.0,"t":45,"l":5.10},{"c":"k9R","o":6,"z":140.8,"t":147,"l":5.10},{"c":"k9R","o":7,"z":184.8,"t":269,"l":5.10},
      {"c":"k10","o":0,"z":113.0,"t":352,"l":5.08},{"c":"k10","o":1,"z":88.2,"t":326,"l":5.08},{"c":"k10","o":2,"z":38.1,"t":215,"l":5.08},{"c":"k10","o":3,"z":-7.9,"t":84,"l":5.08},{"c":"k10","o":4,"z":-23.0,"t":9,"l":5.08},{"c":"k10","o":5,"z":1.8,"t":34,"l":5.08},{"c":"k10","o":6,"z":51.9,"t":145,"l":5.08},{"c":"k10","o":7,"z":97.9,"t":276,"l":5.08},
      {"c":"m13a","o":0,"z":30.2,"t":295,"l":5.02},{"c":"m13a","o":1,"z":21.1,"t":302,"l":5.02},{"c":"m13a","o":2,"z":11.7,"t":280,"l":5.02},{"c":"m13a","o":3,"z":7.5,"t":243,"l":5.02},{"c":"m13a","o":4,"z":10.9,"t":212,"l":5.02},{"c":"m13a","o":5,"z":19.9,"t":206,"l":5.02},{"c":"m13a","o":6,"z":29.3,"t":227,"l":5.02},{"c":"m13a","o":7,"z":33.6,"t":264,"l":5.02},
      {"c":"m13b","o":0,"z":59.8,"t":65,"l":5.02},{"c":"m13b","o":1,"z":68.9,"t":58,"l":5.02},{"c":"m13b","o":2,"z":78.3,"t":80,"l":5.02},{"c":"m13b","o":3,"z":82.5,"t":117,"l":5.02},{"c":"m13b","o":4,"z":79.1,"t":148,"l":5.02},{"c":"m13b","o":5,"z":70.1,"t":154,"l":5.02},{"c":"m13b","o":6,"z":60.7,"t":133,"l":5.02},{"c":"m13b","o":7,"z":56.4,"t":96,"l":5.02},
      {"c":"m14a","o":0,"z":26.8,"t":286,"l":5.00},{"c":"m14a","o":1,"z":20.0,"t":289,"l":5.00},{"c":"m14a","o":2,"z":13.5,"t":271,"l":5.00},{"c":"m14a","o":3,"z":11.1,"t":243,"l":5.00},{"c":"m14a","o":4,"z":14.2,"t":221,"l":5.00},{"c":"m14a","o":5,"z":21.0,"t":218,"l":5.00},{"c":"m14a","o":6,"z":27.5,"t":236,"l":5.00},{"c":"m14a","o":7,"z":29.9,"t":264,"l":5.00},
      {"c":"m14b","o":0,"z":63.2,"t":74,"l":5.00},{"c":"m14b","o":1,"z":70.0,"t":71,"l":5.00},{"c":"m14b","o":2,"z":76.5,"t":89,"l":5.00},{"c":"m14b","o":3,"z":78.9,"t":117,"l":5.00},{"c":"m14b","o":4,"z":75.8,"t":139,"l":5.00},{"c":"m14b","o":5,"z":69.0,"t":142,"l":5.00},{"c":"m14b","o":6,"z":62.5,"t":124,"l":5.00},{"c":"m14b","o":7,"z":60.1,"t":96,"l":5.00},
      {"c":"m15a","o":0,"z":23.6,"t":273,"l":4.98},{"c":"m15a","o":1,"z":19.8,"t":274,"l":4.98},{"c":"m15a","o":2,"z":16.3,"t":262,"l":4.98},{"c":"m15a","o":3,"z":15.4,"t":246,"l":4.98},{"c":"m15a","o":4,"z":17.4,"t":235,"l":4.98},{"c":"m15a","o":5,"z":21.3,"t":234,"l":4.98},{"c":"m15a","o":6,"z":24.7,"t":245,"l":4.98},{"c":"m15a","o":7,"z":25.6,"t":261,"l":4.98},
      {"c":"m15b","o":0,"z":66.4,"t":87,"l":4.98},{"c":"m15b","o":1,"z":70.2,"t":86,"l":4.98},{"c":"m15b","o":2,"z":73.7,"t":98,"l":4.98},{"c":"m15b","o":3,"z":74.6,"t":114,"l":4.98},{"c":"m15b","o":4,"z":72.6,"t":125,"l":4.98},{"c":"m15b","o":5,"z":68.7,"t":126,"l":4.98},{"c":"m15b","o":6,"z":65.3,"t":115,"l":4.98},{"c":"m15b","o":7,"z":64.4,"t":99,"l":4.98},
      {"c":"cBL15","o":0,"z":7.5,"t":24,"l":4.98},{"c":"cBL15","o":1,"z":4.8,"t":26,"l":4.98},{"c":"cBL15","o":2,"z":1.5,"t":20,"l":4.98},{"c":"cBL15","o":3,"z":-0.3,"t":8,"l":4.98},{"c":"cBL15","o":4,"z":0.5,"t":-2,"l":4.98},{"c":"cBL15","o":5,"z":3.2,"t":-5,"l":4.98},{"c":"cBL15","o":6,"z":6.5,"t":2,"l":4.98},{"c":"cBL15","o":7,"z":8.3,"t":14,"l":4.98},
      {"c":"cTR15","o":0,"z":82.5,"t":336,"l":4.98},{"c":"cTR15","o":1,"z":85.2,"t":334,"l":4.98},{"c":"cTR15","o":2,"z":88.5,"t":340,"l":4.98},{"c":"cTR15","o":3,"z":90.3,"t":352,"l":4.98},{"c":"cTR15","o":4,"z":89.5,"t":362,"l":4.98},{"c":"cTR15","o":5,"z":86.8,"t":365,"l":4.98},{"c":"cTR15","o":6,"z":83.5,"t":358,"l":4.98},{"c":"cTR15","o":7,"z":81.7,"t":346,"l":4.98},
      {"c":"cBL14","o":0,"z":9.2,"t":29,"l":5.00},{"c":"cBL14","o":1,"z":4.8,"t":33,"l":5.00},{"c":"cBL14","o":2,"z":-0.4,"t":23,"l":5.00},{"c":"cBL14","o":3,"z":-3.3,"t":5,"l":5.00},{"c":"cBL14","o":4,"z":-2.2,"t":-11,"l":5.00},{"c":"cBL14","o":5,"z":2.3,"t":-15,"l":5.00},{"c":"cBL14","o":6,"z":7.4,"t":-5,"l":5.00},{"c":"cBL14","o":7,"z":10.3,"t":14,"l":5.00},
      {"c":"cTR14","o":0,"z":80.8,"t":331,"l":5.00},{"c":"cTR14","o":1,"z":85.2,"t":327,"l":5.00},{"c":"cTR14","o":2,"z":90.4,"t":337,"l":5.00},{"c":"cTR14","o":3,"z":93.3,"t":355,"l":5.00},{"c":"cTR14","o":4,"z":92.2,"t":371,"l":5.00},{"c":"cTR14","o":5,"z":87.7,"t":375,"l":5.00},{"c":"cTR14","o":6,"z":82.6,"t":365,"l":5.00},{"c":"cTR14","o":7,"z":79.7,"t":346,"l":5.00}
    ],
    "c4": [
      {"c":"y0a","o":0,"z":29.8,"t":153,"l":5.28},{"c":"y0a","o":1,"z":27.4,"t":154,"l":5.28},{"c":"y0a","o":2,"z":22.7,"t":148,"l":5.28},{"c":"y0a","o":3,"z":18.5,"t":139,"l":5.28},{"c":"y0a","o":4,"z":17.2,"t":131,"l":5.28},{"c":"y0a","o":5,"z":19.6,"t":130,"l":5.28},{"c":"y0a","o":6,"z":24.3,"t":136,"l":5.28},{"c":"y0a","o":7,"z":28.5,"t":146,"l":5.28},
      {"c":"y0b","o":0,"z":60.2,"t":207,"l":5.28},{"c":"y0b","o":1,"z":62.6,"t":206,"l":5.28},{"c":"y0b","o":2,"z":67.3,"t":212,"l":5.28},{"c":"y0b","o":3,"z":71.5,"t":221,"l":5.28},{"c":"y0b","o":4,"z":72.8,"t":229,"l":5.28},{"c":"y0b","o":5,"z":70.4,"t":230,"l":5.28},{"c":"y0b","o":6,"z":65.7,"t":224,"l":5.28},{"c":"y0b","o":7,"z":61.5,"t":214,"l":5.28},
      {"c":"y1a","o":0,"z":33.4,"t":160,"l":5.26},{"c":"y1a","o":1,"z":29.6,"t":161,"l":5.26},{"c":"y1a","o":2,"z":22.2,"t":152,"l":5.26},{"c":"y1a","o":3,"z":15.6,"t":137,"l":5.26},{"c":"y1a","o":4,"z":13.6,"t":125,"l":5.26},{"c":"y1a","o":5,"z":17.4,"t":123,"l":5.26},{"c":"y1a","o":6,"z":24.8,"t":133,"l":5.26},{"c":"y1a","o":7,"z":31.4,"t":148,"l":5.26},
      {"c":"y1b","o":0,"z":56.6,"t":200,"l":5.26},{"c":"y1b","o":1,"z":60.4,"t":199,"l":5.26},{"c":"y1b","o":2,"z":67.8,"t":208,"l":5.26},{"c":"y1b","o":3,"z":74.4,"t":223,"l":5.26},{"c":"y1b","o":4,"z":76.4,"t":235,"l":5.26},{"c":"y1b","o":5,"z":72.6,"t":237,"l":5.26},{"c":"y1b","o":6,"z":65.2,"t":227,"l":5.26},{"c":"y1b","o":7,"z":58.6,"t":212,"l":5.26},
      {"c":"k2","o":0,"z":81.0,"t":243,"l":5.24},{"c":"k2","o":1,"z":68.7,"t":237,"l":5.24},{"c":"k2","o":2,"z":42.6,"t":198,"l":5.24},{"c":"k2","o":3,"z":17.9,"t":148,"l":5.24},{"c":"k2","o":4,"z":9.0,"t":117,"l":5.24},{"c":"k2","o":5,"z":21.3,"t":123,"l":5.24},{"c":"k2","o":6,"z":47.4,"t":162,"l":5.24},{"c":"k2","o":7,"z":72.1,"t":212,"l":5.24},
      {"c":"k3","o":0,"z":84.2,"t":252,"l":5.22},{"c":"k3","o":1,"z":70.5,"t":247,"l":5.22},{"c":"k3","o":2,"z":41.8,"t":203,"l":5.22},{"c":"k3","o":3,"z":15.0,"t":145,"l":5.22},{"c":"k3","o":4,"z":5.8,"t":108,"l":5.22},{"c":"k3","o":5,"z":19.5,"t":113,"l":5.22},{"c":"k3","o":6,"z":48.2,"t":158,"l":5.22},{"c":"k3","o":7,"z":75.0,"t":215,"l":5.22},
      {"c":"k4","o":0,"z":87.4,"t":261,"l":5.20},{"c":"k4","o":1,"z":72.1,"t":256,"l":5.20},{"c":"k4","o":2,"z":41.0,"t":207,"l":5.20},{"c":"k4","o":3,"z":12.2,"t":142,"l":5.20},{"c":"k4","o":4,"z":2.6,"t":99,"l":5.20},{"c":"k4","o":5,"z":17.9,"t":104,"l":5.20},{"c":"k4","o":6,"z":49.0,"t":153,"l":5.20},{"c":"k4","o":7,"z":77.8,"t":218,"l":5.20},
      {"c":"k5","o":0,"z":90.5,"t":271,"l":5.18},{"c":"k5","o":1,"z":73.7,"t":267,"l":5.18},{"c":"k5","o":2,"z":40.2,"t":212,"l":5.18},{"c":"k5","o":3,"z":9.4,"t":138,"l":5.18},{"c":"k5","o":4,"z":-0.5,"t":89,"l":5.18},{"c":"k5","o":5,"z":16.3,"t":94,"l":5.18},{"c":"k5","o":6,"z":49.9,"t":149,"l":5.18},{"c":"k5","o":7,"z":80.6,"t":222,"l":5.18},
      {"c":"k6","o":0,"z":93.5,"t":281,"l":5.16},{"c":"k6","o":1,"z":75.2,"t":277,"l":5.16},{"c":"k6","o":2,"z":39.3,"t":216,"l":5.16},{"c":"k6","o":3,"z":6.6,"t":134,"l":5.16},{"c":"k6","o":4,"z":-3.5,"t":79,"l":5.16},{"c":"k6","o":5,"z":14.8,"t":83,"l":5.16},{"c":"k6","o":6,"z":50.8,"t":144,"l":5.16},{"c":"k6","o":7,"z":83.4,"t":226,"l":5.16},
      {"c":"k6L","o":0,"z":3.5,"t":281,"l":5.16},{"c":"k6L","o":1,"z":-14.8,"t":277,"l":5.16},{"c":"k6L","o":2,"z":-50.7,"t":216,"l":5.16},{"c":"k6L","o":3,"z":-83.4,"t":134,"l":5.16},{"c":"k6L","o":4,"z":-93.5,"t":79,"l":5.16},{"c":"k6L","o":5,"z":-75.2,"t":83,"l":5.16},{"c":"k6L","o":6,"z":-39.2,"t":144,"l":5.16},{"c":"k6L","o":7,"z":-6.6,"t":226,"l":5.16},
      {"c":"k6R","o":0,"z":183.5,"t":281,"l":5.16},{"c":"k6R","o":1,"z":165.2,"t":277,"l":5.16},{"c":"k6R","o":2,"z":129.3,"t":216,"l":5.16},{"c":"k6R","o":3,"z":96.6,"t":134,"l":5.16},{"c":"k6R","o":4,"z":86.5,"t":79,"l":5.16},{"c":"k6R","o":5,"z":104.8,"t":83,"l":5.16},{"c":"k6R","o":6,"z":140.8,"t":144,"l":5.16},{"c":"k6R","o":7,"z":173.4,"t":226,"l":5.16},
      {"c":"k7","o":0,"z":97.3,"t":293,"l":5.14},{"c":"k7","o":1,"z":77.2,"t":288,"l":5.14},{"c":"k7","o":2,"z":38.3,"t":220,"l":5.14},{"c":"k7","o":3,"z":3.3,"t":128,"l":5.14},{"c":"k7","o":4,"z":-7.3,"t":67,"l":5.14},{"c":"k7","o":5,"z":12.8,"t":72,"l":5.14},{"c":"k7","o":6,"z":51.7,"t":140,"l":5.14},{"c":"k7","o":7,"z":86.7,"t":232,"l":5.14},
      {"c":"k7L","o":0,"z":7.3,"t":293,"l":5.14},{"c":"k7L","o":1,"z":-12.8,"t":288,"l":5.14},{"c":"k7L","o":2,"z":-51.7,"t":220,"l":5.14},{"c":"k7L","o":3,"z":-86.7,"t":128,"l":5.14},{"c":"k7L","o":4,"z":-97.3,"t":67,"l":5.14},{"c":"k7L","o":5,"z":-77.2,"t":72,"l":5.14},{"c":"k7L","o":6,"z":-38.3,"t":140,"l":5.14},{"c":"k7L","o":7,"z":-3.3,"t":232,"l":5.14},
      {"c":"k7R","o":0,"z":187.3,"t":293,"l":5.14},{"c":"k7R","o":1,"z":167.2,"t":288,"l":5.14},{"c":"k7R","o":2,"z":128.3,"t":220,"l":5.14},{"c":"k7R","o":3,"z":93.3,"t":128,"l":5.14},{"c":"k7R","o":4,"z":82.7,"t":67,"l":5.14},{"c":"k7R","o":5,"z":102.8,"t":72,"l":5.14},{"c":"k7R","o":6,"z":141.7,"t":140,"l":5.14},{"c":"k7R","o":7,"z":176.7,"t":232,"l":5.14},
      {"c":"k8","o":0,"z":101.0,"t":306,"l":5.12},{"c":"k8","o":1,"z":79.1,"t":300,"l":5.12},{"c":"k8","o":2,"z":37.3,"t":224,"l":5.12},{"c":"k8","o":3,"z":0.0,"t":122,"l":5.12},{"c":"k8","o":4,"z":-11.0,"t":54,"l":5.12},{"c":"k8","o":5,"z":10.9,"t":60,"l":5.12},{"c":"k8","o":6,"z":52.7,"t":136,"l":5.12},{"c":"k8","o":7,"z":90.0,"t":238,"l":5.12},
      {"c":"k9","o":0,"z":104.6,"t":319,"l":5.10},{"c":"k9","o":1,"z":81.0,"t":313,"l":5.10},{"c":"k9","o":2,"z":36.3,"t":228,"l":5.10},{"c":"k9","o":3,"z":-3.3,"t":116,"l":5.10},{"c":"k9","o":4,"z":-14.6,"t":41,"l":5.10},{"c":"k9","o":5,"z":9.1,"t":47,"l":5.10},{"c":"k9","o":6,"z":53.7,"t":132,"l":5.10},{"c":"k9","o":7,"z":93.3,"t":244,"l":5.10},
      {"c":"m13a","o":0,"z":22.1,"t":293,"l":5.02},{"c":"m13a","o":1,"z":14.5,"t":287,"l":5.02},{"c":"m13a","o":2,"z":8.3,"t":254,"l":5.02},{"c":"m13a","o":3,"z":7.2,"t":215,"l":5.02},{"c":"m13a","o":4,"z":11.9,"t":192,"l":5.02},{"c":"m13a","o":5,"z":19.6,"t":199,"l":5.02},{"c":"m13a","o":6,"z":25.7,"t":231,"l":5.02},{"c":"m13a","o":7,"z":26.8,"t":270,"l":5.02},
      {"c":"m13b","o":0,"z":67.9,"t":67,"l":5.02},{"c":"m13b","o":1,"z":75.5,"t":73,"l":5.02},{"c":"m13b","o":2,"z":81.7,"t":106,"l":5.02},{"c":"m13b","o":3,"z":82.8,"t":145,"l":5.02},{"c":"m13b","o":4,"z":78.1,"t":168,"l":5.02},{"c":"m13b","o":5,"z":70.4,"t":161,"l":5.02},{"c":"m13b","o":6,"z":64.3,"t":129,"l":5.02},{"c":"m13b","o":7,"z":63.2,"t":90,"l":5.02},
      {"c":"m14a","o":0,"z":21.3,"t":285,"l":5.00},{"c":"m14a","o":1,"z":14.8,"t":279,"l":5.00},{"c":"m14a","o":2,"z":9.7,"t":252,"l":5.00},{"c":"m14a","o":3,"z":8.8,"t":220,"l":5.00},{"c":"m14a","o":4,"z":12.7,"t":200,"l":5.00},{"c":"m14a","o":5,"z":19.2,"t":206,"l":5.00},{"c":"m14a","o":6,"z":24.3,"t":233,"l":5.00},{"c":"m14a","o":7,"z":25.2,"t":266,"l":5.00},
      {"c":"m14b","o":0,"z":68.7,"t":75,"l":5.00},{"c":"m14b","o":1,"z":75.2,"t":81,"l":5.00},{"c":"m14b","o":2,"z":80.3,"t":108,"l":5.00},{"c":"m14b","o":3,"z":81.2,"t":140,"l":5.00},{"c":"m14b","o":4,"z":77.3,"t":160,"l":5.00},{"c":"m14b","o":5,"z":70.8,"t":154,"l":5.00},{"c":"m14b","o":6,"z":65.7,"t":127,"l":5.00},{"c":"m14b","o":7,"z":64.8,"t":94,"l":5.00},
      {"c":"m15a","o":0,"z":20.4,"t":276,"l":4.98},{"c":"m15a","o":1,"z":15.4,"t":272,"l":4.98},{"c":"m15a","o":2,"z":11.4,"t":250,"l":4.98},{"c":"m15a","o":3,"z":10.6,"t":224,"l":4.98},{"c":"m15a","o":4,"z":13.6,"t":209,"l":4.98},{"c":"m15a","o":5,"z":18.6,"t":213,"l":4.98},{"c":"m15a","o":6,"z":22.6,"t":235,"l":4.98},{"c":"m15a","o":7,"z":23.4,"t":261,"l":4.98},
      {"c":"m15b","o":0,"z":69.6,"t":84,"l":4.98},{"c":"m15b","o":1,"z":74.6,"t":88,"l":4.98},{"c":"m15b","o":2,"z":78.6,"t":110,"l":4.98},{"c":"m15b","o":3,"z":79.4,"t":136,"l":4.98},{"c":"m15b","o":4,"z":76.4,"t":151,"l":4.98},{"c":"m15b","o":5,"z":71.4,"t":147,"l":4.98},{"c":"m15b","o":6,"z":67.4,"t":125,"l":4.98},{"c":"m15b","o":7,"z":66.6,"t":99,"l":4.98},
      {"c":"cBL15","o":0,"z":10.6,"t":25,"l":4.98},{"c":"cBL15","o":1,"z":7.4,"t":30,"l":4.98},{"c":"cBL15","o":2,"z":2.5,"t":25,"l":4.98},{"c":"cBL15","o":3,"z":-1.2,"t":12,"l":4.98},{"c":"cBL15","o":4,"z":-1.6,"t":0,"l":4.98},{"c":"cBL15","o":5,"z":1.6,"t":-5,"l":4.98},{"c":"cBL15","o":6,"z":6.5,"t":0,"l":4.98},{"c":"cBL15","o":7,"z":10.2,"t":13,"l":4.98},
      {"c":"cTR15","o":0,"z":79.4,"t":335,"l":4.98},{"c":"cTR15","o":1,"z":82.6,"t":330,"l":4.98},{"c":"cTR15","o":2,"z":87.5,"t":335,"l":4.98},{"c":"cTR15","o":3,"z":91.2,"t":348,"l":4.98},{"c":"cTR15","o":4,"z":91.6,"t":360,"l":4.98},{"c":"cTR15","o":5,"z":88.4,"t":365,"l":4.98},{"c":"cTR15","o":6,"z":83.5,"t":360,"l":4.98},{"c":"cTR15","o":7,"z":79.8,"t":347,"l":4.98},
      {"c":"cBL14","o":0,"z":13.5,"t":31,"l":5.00},{"c":"cBL14","o":1,"z":8.3,"t":40,"l":5.00},{"c":"cBL14","o":2,"z":0.5,"t":33,"l":5.00},{"c":"cBL14","o":3,"z":-5.2,"t":12,"l":5.00},{"c":"cBL14","o":4,"z":-5.5,"t":-9,"l":5.00},{"c":"cBL14","o":5,"z":-0.3,"t":-19,"l":5.00},{"c":"cBL14","o":6,"z":7.5,"t":-11,"l":5.00},{"c":"cBL14","o":7,"z":13.2,"t":9,"l":5.00},
      {"c":"cTR14","o":0,"z":76.5,"t":329,"l":5.00},{"c":"cTR14","o":1,"z":81.7,"t":320,"l":5.00},{"c":"cTR14","o":2,"z":89.5,"t":327,"l":5.00},{"c":"cTR14","o":3,"z":95.2,"t":348,"l":5.00},{"c":"cTR14","o":4,"z":95.5,"t":369,"l":5.00},{"c":"cTR14","o":5,"z":90.3,"t":379,"l":5.00},{"c":"cTR14","o":6,"z":82.5,"t":371,"l":5.00},{"c":"cTR14","o":7,"z":76.8,"t":351,"l":5.00}
    ],
    "levels": [
      {"l": 4.96}, {"l": 4.98}, {"l": 5.00}, {"l": 5.02}, {"l": 5.04}, {"l": 5.06},
      {"l": 5.08}, {"l": 5.10}, {"l": 5.12}, {"l": 5.14}, {"l": 5.16}, {"l": 5.18},
      {"l": 5.20}, {"l": 5.22}, {"l": 5.24}, {"l": 5.26}, {"l": 5.28}, {"l": 5.30}
    ],
    "labels": [
      {"p": 1, "s": "s", "v": "= 0.05"},
      {"p": 2, "s": "s", "v": "= 0.25"},
      {"p": 3, "s": "s", "v": "= 0.5"},
      {"p": 4, "s": "s", "v": "= 1.0"}
    ]
  },
  "columns": 5,
  "spacing": {"row": 37, "column": 5},
  "bounds": "flush",
  "align": "each",
  "concat": [
    {
      "width": 87, "height": 118,
      "layer": [
        {
          "data": {"name": "c1"},
          "mark": {"type": "line", "interpolate": "cardinal-closed", "strokeWidth": 1, "clip": true},
          "encoding": {
            "x": {"field": "z", "type": "quantitative", "scale": {"domain": [0, 90], "nice": false, "zero": false}, "axis": {"values": [0, 90], "labelExpr": "datum.value == 0 ? '0' : 'π/2'", "labelFlush": false, "title": "ζ", "titleFontStyle": "italic", "titleY": 3, "titleBaseline": "top"}},
            "y": {"field": "t", "type": "quantitative", "scale": {"domain": [0, 360], "nice": false, "zero": false}, "axis": {"values": [0, 360], "labelExpr": "datum.value == 0 ? '0' : '2π'", "labelFlush": false, "title": "θ", "titleFontStyle": "italic", "titleX": -13, "titleBaseline": "middle"}},
            "color": {"field": "l", "type": "quantitative", "scale": {"scheme": "viridis", "domain": [4.96, 5.30]}, "legend": null},
            "detail": {"field": "c"},
            "order": {"field": "o"}
          }
        },
        {
          "data": {"name": "labels"},
          "transform": [{"filter": "datum.p == 1"}],
          "mark": {"type": "rect", "fill": "#808080", "opacity": 0.65},
          "encoding": {"x": {"datum": 0}, "x2": {"datum": 47}, "y": {"datum": 371}, "y2": {"datum": 328}}
        },
        {
          "data": {"name": "labels"},
          "transform": [{"filter": "datum.p == 1"}],
          "mark": {"type": "text", "font": "DejaVu Sans", "fontSize": 11, "fontStyle": "italic", "align": "left", "baseline": "middle"},
          "encoding": {"x": {"datum": 3}, "y": {"datum": 349}, "text": {"field": "s"}}
        },
        {
          "data": {"name": "labels"},
          "transform": [{"filter": "datum.p == 1"}],
          "mark": {"type": "text", "font": "DejaVu Sans", "fontSize": 11, "align": "left", "baseline": "middle"},
          "encoding": {"x": {"datum": 10}, "y": {"datum": 349}, "text": {"field": "v"}}
        }
      ]
    },
    {
      "width": 6, "height": 118,
      "view": {"stroke": "#666"},
      "data": {"name": "levels"},
      "mark": {"type": "rule", "strokeWidth": 1},
      "encoding": {
        "y": {"field": "l", "type": "quantitative", "scale": {"domain": [4.95, 5.30], "nice": false, "zero": false}, "axis": {"orient": "right", "values": [4.98, 5.04, 5.10, 5.16, 5.22, 5.28], "format": ".2f", "title": null, "labelFontSize": 8.5, "labelPadding": 1}},
        "color": {"field": "l", "type": "quantitative", "scale": {"scheme": "viridis", "domain": [4.96, 5.30]}, "legend": null}
      }
    },
    {
      "width": 45, "height": 118, "view": {"stroke": null},
      "data": {"values": [{}]},
      "mark": {"type": "point", "opacity": 0},
      "encoding": {}
    },
    {
      "width": 87, "height": 118,
      "layer": [
        {
          "data": {"name": "c2"},
          "mark": {"type": "line", "interpolate": "cardinal-closed", "strokeWidth": 1, "clip": true},
          "encoding": {
            "x": {"field": "z", "type": "quantitative", "scale": {"domain": [0, 90], "nice": false, "zero": false}, "axis": {"values": [0, 90], "labelExpr": "datum.value == 0 ? '0' : 'π/2'", "labelFlush": false, "title": "ζ", "titleFontStyle": "italic", "titleY": 3, "titleBaseline": "top"}},
            "y": {"field": "t", "type": "quantitative", "scale": {"domain": [0, 360], "nice": false, "zero": false}, "axis": {"values": [0, 360], "labelExpr": "datum.value == 0 ? '0' : '2π'", "labelFlush": false, "title": "θ", "titleFontStyle": "italic", "titleX": -13, "titleBaseline": "middle"}},
            "color": {"field": "l", "type": "quantitative", "scale": {"scheme": "viridis", "domain": [4.96, 5.30]}, "legend": null},
            "detail": {"field": "c"},
            "order": {"field": "o"}
          }
        },
        {
          "data": {"name": "labels"},
          "transform": [{"filter": "datum.p == 2"}],
          "mark": {"type": "rect", "fill": "#808080", "opacity": 0.65},
          "encoding": {"x": {"datum": 0}, "x2": {"datum": 47}, "y": {"datum": 371}, "y2": {"datum": 328}}
        },
        {
          "data": {"name": "labels"},
          "transform": [{"filter": "datum.p == 2"}],
          "mark": {"type": "text", "font": "DejaVu Sans", "fontSize": 11, "fontStyle": "italic", "align": "left", "baseline": "middle"},
          "encoding": {"x": {"datum": 3}, "y": {"datum": 349}, "text": {"field": "s"}}
        },
        {
          "data": {"name": "labels"},
          "transform": [{"filter": "datum.p == 2"}],
          "mark": {"type": "text", "font": "DejaVu Sans", "fontSize": 11, "align": "left", "baseline": "middle"},
          "encoding": {"x": {"datum": 10}, "y": {"datum": 349}, "text": {"field": "v"}}
        }
      ]
    },
    {
      "width": 6, "height": 118,
      "view": {"stroke": "#666"},
      "data": {"name": "levels"},
      "mark": {"type": "rule", "strokeWidth": 1},
      "encoding": {
        "y": {"field": "l", "type": "quantitative", "scale": {"domain": [4.95, 5.30], "nice": false, "zero": false}, "axis": {"orient": "right", "values": [4.98, 5.04, 5.10, 5.16, 5.22, 5.28], "format": ".2f", "title": null, "labelFontSize": 8.5, "labelPadding": 1}},
        "color": {"field": "l", "type": "quantitative", "scale": {"scheme": "viridis", "domain": [4.96, 5.30]}, "legend": null}
      }
    },
    {
      "width": 87, "height": 118,
      "layer": [
        {
          "data": {"name": "c3"},
          "mark": {"type": "line", "interpolate": "cardinal-closed", "strokeWidth": 1, "clip": true},
          "encoding": {
            "x": {"field": "z", "type": "quantitative", "scale": {"domain": [0, 90], "nice": false, "zero": false}, "axis": {"values": [0, 90], "labelExpr": "datum.value == 0 ? '0' : 'π/2'", "labelFlush": false, "title": "ζ", "titleFontStyle": "italic", "titleY": 3, "titleBaseline": "top"}},
            "y": {"field": "t", "type": "quantitative", "scale": {"domain": [0, 360], "nice": false, "zero": false}, "axis": {"values": [0, 360], "labelExpr": "datum.value == 0 ? '0' : '2π'", "labelFlush": false, "title": "θ", "titleFontStyle": "italic", "titleX": -13, "titleBaseline": "middle"}},
            "color": {"field": "l", "type": "quantitative", "scale": {"scheme": "viridis", "domain": [4.96, 5.30]}, "legend": null},
            "detail": {"field": "c"},
            "order": {"field": "o"}
          }
        },
        {
          "data": {"name": "labels"},
          "transform": [{"filter": "datum.p == 3"}],
          "mark": {"type": "rect", "fill": "#808080", "opacity": 0.65},
          "encoding": {"x": {"datum": 0}, "x2": {"datum": 40}, "y": {"datum": 371}, "y2": {"datum": 328}}
        },
        {
          "data": {"name": "labels"},
          "transform": [{"filter": "datum.p == 3"}],
          "mark": {"type": "text", "font": "DejaVu Sans", "fontSize": 11, "fontStyle": "italic", "align": "left", "baseline": "middle"},
          "encoding": {"x": {"datum": 3}, "y": {"datum": 349}, "text": {"field": "s"}}
        },
        {
          "data": {"name": "labels"},
          "transform": [{"filter": "datum.p == 3"}],
          "mark": {"type": "text", "font": "DejaVu Sans", "fontSize": 11, "align": "left", "baseline": "middle"},
          "encoding": {"x": {"datum": 10}, "y": {"datum": 349}, "text": {"field": "v"}}
        }
      ]
    },
    {
      "width": 6, "height": 118,
      "view": {"stroke": "#666"},
      "data": {"name": "levels"},
      "mark": {"type": "rule", "strokeWidth": 1},
      "encoding": {
        "y": {"field": "l", "type": "quantitative", "scale": {"domain": [4.95, 5.30], "nice": false, "zero": false}, "axis": {"orient": "right", "values": [4.98, 5.04, 5.10, 5.16, 5.22, 5.28], "format": ".2f", "title": null, "labelFontSize": 8.5, "labelPadding": 1}},
        "color": {"field": "l", "type": "quantitative", "scale": {"scheme": "viridis", "domain": [4.96, 5.30]}, "legend": null}
      }
    },
    {
      "width": 45, "height": 118, "view": {"stroke": null},
      "data": {"values": [{}]},
      "mark": {"type": "point", "opacity": 0},
      "encoding": {}
    },
    {
      "width": 87, "height": 118,
      "layer": [
        {
          "data": {"name": "c4"},
          "mark": {"type": "line", "interpolate": "cardinal-closed", "strokeWidth": 1, "clip": true},
          "encoding": {
            "x": {"field": "z", "type": "quantitative", "scale": {"domain": [0, 90], "nice": false, "zero": false}, "axis": {"values": [0, 90], "labelExpr": "datum.value == 0 ? '0' : 'π/2'", "labelFlush": false, "title": "ζ", "titleFontStyle": "italic", "titleY": 3, "titleBaseline": "top"}},
            "y": {"field": "t", "type": "quantitative", "scale": {"domain": [0, 360], "nice": false, "zero": false}, "axis": {"values": [0, 360], "labelExpr": "datum.value == 0 ? '0' : '2π'", "labelFlush": false, "title": "θ", "titleFontStyle": "italic", "titleX": -13, "titleBaseline": "middle"}},
            "color": {"field": "l", "type": "quantitative", "scale": {"scheme": "viridis", "domain": [4.96, 5.30]}, "legend": null},
            "detail": {"field": "c"},
            "order": {"field": "o"}
          }
        },
        {
          "data": {"name": "labels"},
          "transform": [{"filter": "datum.p == 4"}],
          "mark": {"type": "rect", "fill": "#808080", "opacity": 0.65},
          "encoding": {"x": {"datum": 0}, "x2": {"datum": 39}, "y": {"datum": 371}, "y2": {"datum": 328}}
        },
        {
          "data": {"name": "labels"},
          "transform": [{"filter": "datum.p == 4"}],
          "mark": {"type": "text", "font": "DejaVu Sans", "fontSize": 11, "fontStyle": "italic", "align": "left", "baseline": "middle"},
          "encoding": {"x": {"datum": 3}, "y": {"datum": 349}, "text": {"field": "s"}}
        },
        {
          "data": {"name": "labels"},
          "transform": [{"filter": "datum.p == 4"}],
          "mark": {"type": "text", "font": "DejaVu Sans", "fontSize": 11, "align": "left", "baseline": "middle"},
          "encoding": {"x": {"datum": 10}, "y": {"datum": 349}, "text": {"field": "v"}}
        }
      ]
    },
    {
      "width": 6, "height": 118,
      "view": {"stroke": "#666"},
      "data": {"name": "levels"},
      "mark": {"type": "rule", "strokeWidth": 1},
      "encoding": {
        "y": {"field": "l", "type": "quantitative", "scale": {"domain": [4.95, 5.30], "nice": false, "zero": false}, "axis": {"orient": "right", "values": [4.98, 5.04, 5.10, 5.16, 5.22, 5.28], "format": ".2f", "title": null, "labelFontSize": 8.5, "labelPadding": 1}},
        "color": {"field": "l", "type": "quantitative", "scale": {"scheme": "viridis", "domain": [4.96, 5.30]}, "legend": null}
      }
    }
  ]
}
